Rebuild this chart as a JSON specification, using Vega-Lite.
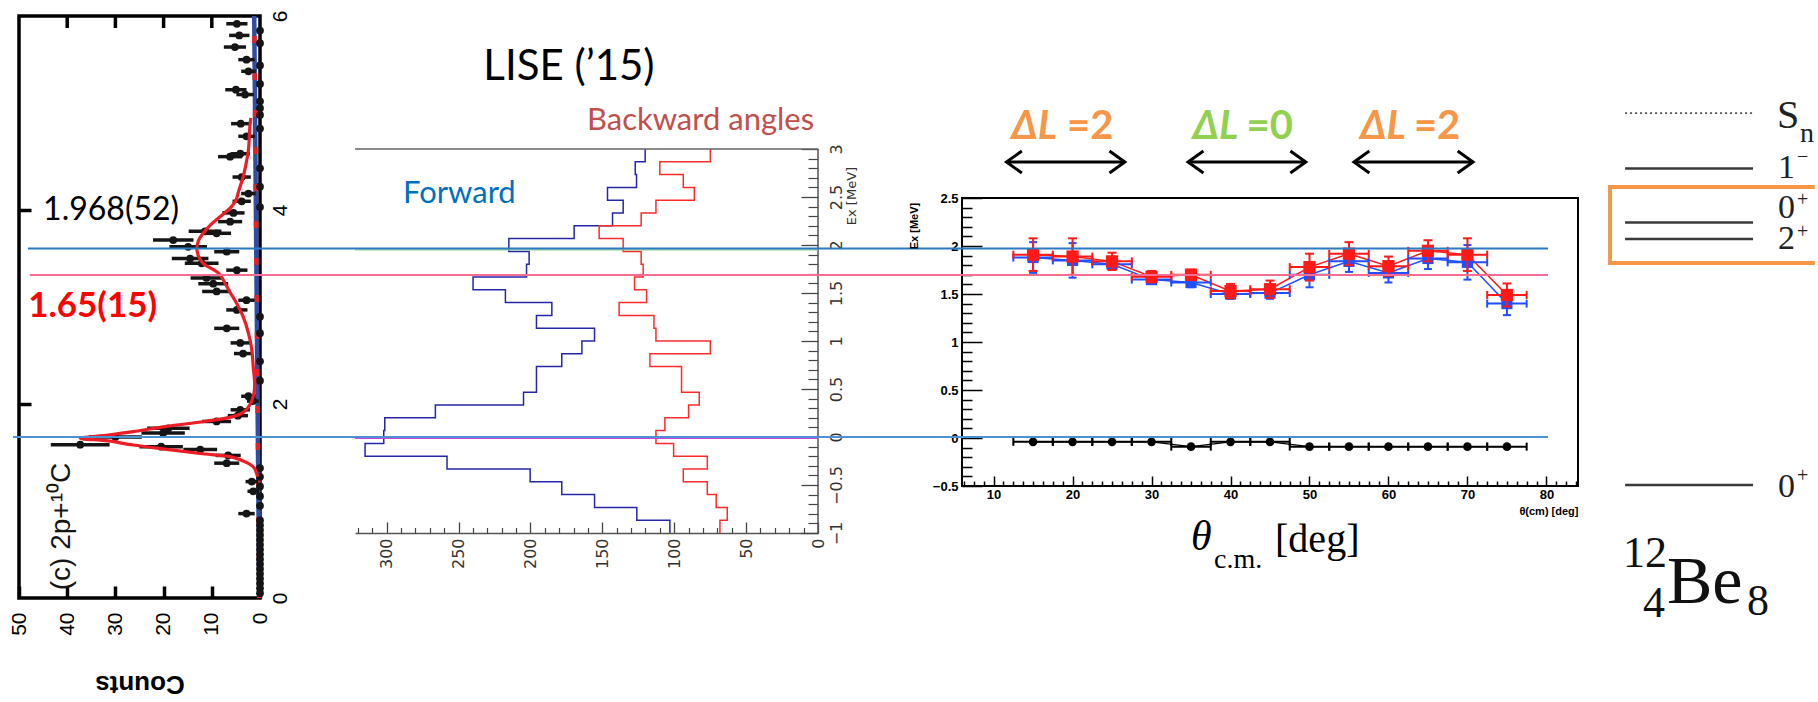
{
"$schema": "https://vega.github.io/schema/vega-lite/v6.json",
"background": "white",
"padding": {"left": 8, "top": 0, "right": 0, "bottom": 0},
"spacing": 0,
"bounds": "flush",
"config": {
 "view": {"stroke": null},
 "font": "Liberation Sans",
 "axis": {"labelOverlap": false, "labelFlush": false, "grid": false, "labelColor": "#000", "tickColor": "#000", "domainColor": "#000", "titleColor": "#000"}
},
"datasets": {
 "p1bg": [{"e": 0, "c": 0.15}, {"e": 6, "c": 1.2}],
 "p1fit": [
  {"e": 1.25, "c": 0.5}, {"e": 1.285, "c": 0.7}, {"e": 1.34, "c": 1.2}, {"e": 1.39, "c": 2.5}, {"e": 1.45, "c": 5.6},
  {"e": 1.49, "c": 12.4}, {"e": 1.533, "c": 19.4}, {"e": 1.577, "c": 26.3}, {"e": 1.62, "c": 31.5}, {"e": 1.646, "c": 37.3},
  {"e": 1.68, "c": 31.5}, {"e": 1.715, "c": 26.3}, {"e": 1.77, "c": 19.4}, {"e": 1.82, "c": 11.5}, {"e": 1.87, "c": 5.6},
  {"e": 1.92, "c": 3.3}, {"e": 2.0, "c": 2.0}, {"e": 2.1, "c": 1.3}, {"e": 2.2, "c": 1.1}, {"e": 2.38, "c": 1.4},
  {"e": 2.56, "c": 1.7}, {"e": 2.73, "c": 2.4}, {"e": 2.9, "c": 3.5}, {"e": 3.07, "c": 5.2}, {"e": 3.15, "c": 6.2},
  {"e": 3.25, "c": 7.3}, {"e": 3.35, "c": 8.6}, {"e": 3.45, "c": 11.8}, {"e": 3.53, "c": 12.8}, {"e": 3.605, "c": 13.1},
  {"e": 3.68, "c": 12.8}, {"e": 3.76, "c": 11.8}, {"e": 3.85, "c": 10.2}, {"e": 3.93, "c": 8.3}, {"e": 4.03, "c": 6.0},
  {"e": 4.1, "c": 5.0}, {"e": 4.2, "c": 4.4}, {"e": 4.34, "c": 3.5}, {"e": 4.45, "c": 3.0}, {"e": 4.62, "c": 2.4},
  {"e": 4.86, "c": 2.1}, {"e": 4.95, "c": 1.9}
 ],
 "p1pts": [
  {"e":5.92,"c":4.8,"lo":2.6,"hi":7.0},{"e":5.85,"c":0,"lo":0,"hi":0},{"e":5.80,"c":4.3,"lo":2.2,"hi":6.4},
  {"e":5.72,"c":0,"lo":0,"hi":0},{"e":5.68,"c":5.2,"lo":2.9,"hi":7.5},{"e":5.55,"c":2.8,"lo":1.1,"hi":4.5},
  {"e":5.49,"c":0,"lo":0,"hi":0},{"e":5.43,"c":2.4,"lo":0.9,"hi":3.9},{"e":5.30,"c":0,"lo":0,"hi":0},
  {"e":5.24,"c":5.0,"lo":2.8,"hi":7.2},{"e":5.19,"c":3.1,"lo":1.3,"hi":4.9},{"e":5.12,"c":0,"lo":0,"hi":0},
  {"e":5.05,"c":0,"lo":0,"hi":0},{"e":4.98,"c":0,"lo":0,"hi":0},{"e":4.89,"c":4.0,"lo":2.0,"hi":6.0},
  {"e":4.84,"c":0,"lo":0,"hi":0},{"e":4.76,"c":2.8,"lo":1.1,"hi":4.5},{"e":4.58,"c":4.1,"lo":2.1,"hi":6.1},
  {"e":4.55,"c":6.2,"lo":3.7,"hi":8.7},{"e":4.43,"c":0,"lo":0,"hi":0},{"e":4.34,"c":3.8,"lo":1.9,"hi":5.7},
  {"e":4.24,"c":0,"lo":0,"hi":0},{"e":4.17,"c":2.4,"lo":0.9,"hi":3.9},{"e":4.09,"c":3.8,"lo":1.9,"hi":5.7},
  {"e":4.03,"c":0,"lo":0,"hi":0},{"e":3.97,"c":5.5,"lo":3.2,"hi":7.8},{"e":3.88,"c":6.2,"lo":3.7,"hi":8.7},
  {"e":3.78,"c":11.4,"lo":8.0,"hi":14.8},{"e":3.76,"c":9.0,"lo":6.0,"hi":12.0},{"e":3.69,"c":18.0,"lo":13.8,"hi":22.2},
  {"e":3.62,"c":14.9,"lo":11.0,"hi":18.8},{"e":3.57,"c":6.9,"lo":4.3,"hi":9.5},{"e":3.50,"c":14.5,"lo":10.7,"hi":18.3},
  {"e":3.45,"c":12.1,"lo":8.6,"hi":15.6},{"e":3.38,"c":4.8,"lo":2.6,"hi":7.0},{"e":3.30,"c":11.1,"lo":7.8,"hi":14.4},
  {"e":3.24,"c":9.7,"lo":6.6,"hi":12.8},{"e":3.16,"c":9.0,"lo":6.0,"hi":12.0},{"e":3.07,"c":2.8,"lo":1.1,"hi":4.5},
  {"e":2.97,"c":4.8,"lo":2.6,"hi":7.0},{"e":2.90,"c":0,"lo":0,"hi":0},{"e":2.78,"c":6.9,"lo":4.3,"hi":9.5},
  {"e":2.73,"c":0,"lo":0,"hi":0},{"e":2.63,"c":4.1,"lo":2.1,"hi":6.1},{"e":2.52,"c":3.5,"lo":1.6,"hi":5.4},
  {"e":2.44,"c":0,"lo":0,"hi":0},{"e":2.24,"c":0,"lo":0,"hi":0},{"e":2.08,"c":2.4,"lo":0.9,"hi":3.9},
  {"e":2.03,"c":1.5,"lo":0.3,"hi":2.7},{"e":1.94,"c":4.1,"lo":2.1,"hi":6.1},{"e":1.88,"c":4.6,"lo":2.5,"hi":6.7},
  {"e":1.82,"c":9.0,"lo":6.0,"hi":12.0},{"e":1.75,"c":19.0,"lo":14.6,"hi":23.4},{"e":1.70,"c":20.1,"lo":15.6,"hi":24.6},
  {"e":1.66,"c":30.0,"lo":24.5,"hi":35.5},{"e":1.58,"c":37.3,"lo":31.2,"hi":43.4},{"e":1.56,"c":20.5,"lo":16.0,"hi":25.0},
  {"e":1.53,"c":12.4,"lo":8.9,"hi":15.9},{"e":1.47,"c":6.6,"lo":4.0,"hi":9.2},{"e":1.39,"c":6.9,"lo":4.3,"hi":9.5},
  {"e":1.34,"c":0,"lo":0,"hi":0},{"e":1.25,"c":0,"lo":0,"hi":0},{"e":1.20,"c":1.7,"lo":0.4,"hi":3.0},
  {"e":1.15,"c":0,"lo":0,"hi":0},{"e":1.10,"c":1.4,"lo":0.2,"hi":2.6},{"e":1.05,"c":0,"lo":0,"hi":0},
  {"e":0.95,"c":0,"lo":0,"hi":0},{"e":0.87,"c":2.8,"lo":1.1,"hi":4.5},{"e":0.80,"c":0,"lo":0,"hi":0},
  {"e":0.75,"c":0,"lo":0,"hi":0},{"e":0.70,"c":0,"lo":0,"hi":0},{"e":0.65,"c":0,"lo":0,"hi":0},
  {"e":0.60,"c":0,"lo":0,"hi":0},{"e":0.55,"c":0,"lo":0,"hi":0},{"e":0.50,"c":0,"lo":0,"hi":0},
  {"e":0.45,"c":0,"lo":0,"hi":0},{"e":0.40,"c":0,"lo":0,"hi":0},{"e":0.35,"c":0,"lo":0,"hi":0},
  {"e":0.30,"c":0,"lo":0,"hi":0},{"e":0.25,"c":0,"lo":0,"hi":0},{"e":0.20,"c":0,"lo":0,"hi":0},
  {"e":0.15,"c":0,"lo":0,"hi":0},{"e":0.10,"c":0,"lo":0,"hi":0},{"e":0.05,"c":0,"lo":0,"hi":0}
 ],
 "histB": [
  {"e":-1,"c":103},{"e":-0.8667,"c":126},{"e":-0.7333,"c":155.4},{"e":-0.6,"c":178.2},{"e":-0.4667,"c":200.2},
  {"e":-0.3333,"c":258},{"e":-0.2,"c":315},{"e":-0.0667,"c":302},{"e":0.0667,"c":301.3},{"e":0.2,"c":266.1},
  {"e":0.3333,"c":204.8},{"e":0.4667,"c":195.8},{"e":0.6,"c":195.8},{"e":0.7333,"c":178.2},{"e":0.8667,"c":164.2},
  {"e":1.0,"c":155.4},{"e":1.1333,"c":195.8},{"e":1.2667,"c":185.1},{"e":1.4,"c":217.4},{"e":1.5333,"c":239.9},
  {"e":1.6667,"c":202.7},{"e":1.8,"c":200.9},{"e":1.9333,"c":215},{"e":2.0667,"c":169.6},{"e":2.2,"c":142.9},
  {"e":2.3333,"c":135.5},{"e":2.4667,"c":146.4},{"e":2.6,"c":126.2},{"e":2.7333,"c":127.1},{"e":2.8667,"c":120.2},
  {"e":3.0,"c":120.2}
 ],
 "histR": [
  {"e":-1,"c":68.2},{"e":-0.8667,"c":63.1},{"e":-0.7333,"c":70.8},{"e":-0.6,"c":77},{"e":-0.4667,"c":93.7},
  {"e":-0.3333,"c":77},{"e":-0.2,"c":100.4},{"e":-0.0667,"c":112.7},{"e":0.0667,"c":106.5},{"e":0.2,"c":90},
  {"e":0.3333,"c":82.6},{"e":0.4667,"c":94.9},{"e":0.6,"c":94.9},{"e":0.7333,"c":116.9},{"e":0.8667,"c":74.9},
  {"e":1.0,"c":112.7},{"e":1.1333,"c":114.1},{"e":1.2667,"c":138.3},{"e":1.4,"c":119.2},{"e":1.5333,"c":127.6},
  {"e":1.6667,"c":121.6},{"e":1.8,"c":123},{"e":1.9333,"c":135.5},{"e":2.0667,"c":152.2},{"e":2.2,"c":123},
  {"e":2.3333,"c":112.7},{"e":2.4667,"c":86},{"e":2.6,"c":93.7},{"e":2.7333,"c":110},{"e":2.8667,"c":74.9},
  {"e":3.0,"c":74.9}
 ],
 "p3black": [
  {"t":15,"e":-0.04,"tlo":12.5,"thi":17.5},{"t":20,"e":-0.04,"tlo":17.5,"thi":22.5},{"t":25,"e":-0.04,"tlo":22.5,"thi":27.5},
  {"t":30,"e":-0.04,"tlo":27.5,"thi":32.5},{"t":35,"e":-0.09,"tlo":32.5,"thi":37.5},{"t":40,"e":-0.04,"tlo":37.5,"thi":42.5},
  {"t":45,"e":-0.04,"tlo":42.5,"thi":47.5},{"t":50,"e":-0.09,"tlo":47.5,"thi":52.5},{"t":55,"e":-0.09,"tlo":52.5,"thi":57.5},
  {"t":60,"e":-0.09,"tlo":57.5,"thi":62.5},{"t":65,"e":-0.09,"tlo":62.5,"thi":67.5},{"t":70,"e":-0.09,"tlo":67.5,"thi":72.5},
  {"t":75,"e":-0.09,"tlo":72.5,"thi":77.5}
 ],
 "p3blue": [
  {"t":15,"e":1.88,"lo":1.72,"hi":2.04,"tlo":12.5,"thi":17.5},{"t":20,"e":1.85,"lo":1.67,"hi":2.03,"tlo":17.5,"thi":22.5},
  {"t":25,"e":1.81,"lo":1.76,"hi":1.86,"tlo":22.5,"thi":27.5},{"t":30,"e":1.65,"lo":1.61,"hi":1.69,"tlo":27.5,"thi":32.5},
  {"t":35,"e":1.62,"lo":1.57,"hi":1.67,"tlo":32.5,"thi":37.5},{"t":40,"e":1.50,"lo":1.45,"hi":1.55,"tlo":37.5,"thi":42.5},
  {"t":45,"e":1.51,"lo":1.45,"hi":1.57,"tlo":42.5,"thi":47.5},{"t":50,"e":1.70,"lo":1.57,"hi":1.83,"tlo":47.5,"thi":52.5},
  {"t":55,"e":1.84,"lo":1.73,"hi":1.95,"tlo":52.5,"thi":57.5},{"t":60,"e":1.72,"lo":1.62,"hi":1.82,"tlo":57.5,"thi":62.5},
  {"t":65,"e":1.87,"lo":1.76,"hi":1.98,"tlo":62.5,"thi":67.5},{"t":70,"e":1.83,"lo":1.65,"hi":2.01,"tlo":67.5,"thi":72.5},
  {"t":75,"e":1.40,"lo":1.28,"hi":1.52,"tlo":72.5,"thi":77.5}
 ],
 "p3red": [
  {"t":15,"e":1.91,"lo":1.74,"hi":2.08,"tlo":12.5,"thi":17.5},{"t":20,"e":1.89,"lo":1.70,"hi":2.08,"tlo":17.5,"thi":22.5},
  {"t":25,"e":1.84,"lo":1.75,"hi":1.93,"tlo":22.5,"thi":27.5},{"t":30,"e":1.68,"lo":1.62,"hi":1.74,"tlo":27.5,"thi":32.5},
  {"t":35,"e":1.70,"lo":1.645,"hi":1.755,"tlo":32.5,"thi":37.5},{"t":40,"e":1.53,"lo":1.455,"hi":1.605,"tlo":37.5,"thi":42.5},
  {"t":45,"e":1.55,"lo":1.46,"hi":1.64,"tlo":42.5,"thi":47.5},{"t":50,"e":1.78,"lo":1.64,"hi":1.92,"tlo":47.5,"thi":52.5},
  {"t":55,"e":1.92,"lo":1.80,"hi":2.04,"tlo":52.5,"thi":57.5},{"t":60,"e":1.79,"lo":1.69,"hi":1.89,"tlo":57.5,"thi":62.5},
  {"t":65,"e":1.95,"lo":1.84,"hi":2.06,"tlo":62.5,"thi":67.5},{"t":70,"e":1.91,"lo":1.74,"hi":2.08,"tlo":67.5,"thi":72.5},
  {"t":75,"e":1.49,"lo":1.37,"hi":1.61,"tlo":72.5,"thi":77.5}
 ],
 "reflines": [
  {"k": "b", "e": 1.974, "t": -112.27, "t2": 80.2},
  {"k": "p", "e": 1.698, "t": -112.02, "t2": 80.2},
  {"k": "l", "e": 0.01, "t": -114.17, "t2": 80.2}
 ],
 "p3arrows": [
  {"t": 11.63, "t2": 26.62, "e": 2.875},
  {"t": 34.62, "t2": 49.53, "e": 2.875},
  {"t": 55.63, "t2": 70.71, "e": 2.875}
 ]
},
"hconcat": [
 {
  "width": 241, "height": 598,
  "resolve": {"axis": {"x": "independent", "y": "independent"}},
  "encoding": {
   "x": {"field": "c", "type": "quantitative", "scale": {"domain": [0, 50], "reverse": true, "nice": false, "zero": false}, "axis": null},
   "y": {"field": "e", "type": "quantitative", "scale": {"domain": [0, 6.165], "nice": false, "zero": false}, "axis": null}
  },
  "layer": [
   {
    "data": {"values": [{"c": 50, "c2": 0, "e": 0, "e2": 6}]},
    "mark": {"type": "rect", "fill": "white", "fillOpacity": 0, "stroke": "#000", "strokeWidth": 3.5},
    "encoding": {"x2": {"field": "c2"}, "y2": {"field": "e2"}}
   },
   {
    "data": {"name": "p1bg"},
    "mark": {"type": "line", "color": "#2e4da3", "strokeWidth": 4.5},
    "encoding": {
     "x": {"field": "c", "type": "quantitative", "scale": {"domain": [0, 50], "reverse": true, "nice": false, "zero": false},
      "axis": {"orient": "bottom", "values": [0, 10, 20, 30, 40, 50], "format": "d", "labelAngle": 270, "labelAlign": "right", "labelBaseline": "middle", "labelFont": "Liberation Sans", "labelFontSize": 21, "labelPadding": 26, "tickSize": -12, "tickWidth": 3.5, "domain": false, "title": "Counts", "titleAngle": 180, "titleBaseline": "bottom", "titleFont": "Liberation Sans", "titleFontSize": 26, "titleFontWeight": "bold", "titlePadding": 35}},
     "y": {"field": "e", "type": "quantitative", "scale": {"domain": [0, 6.165], "nice": false, "zero": false},
      "axis": {"orient": "right", "values": [0, 2, 4, 6], "format": "d", "labelAngle": 270, "labelAlign": "center", "labelBaseline": "top", "labelFont": "Liberation Sans", "labelFontSize": 21, "labelPadding": 9, "ticks": false, "domain": false, "title": null}},
     "order": {"field": "e", "type": "quantitative"}
    }
   },
   {
    "data": {"name": "p1bg"},
    "mark": {"type": "line", "color": "#e8202a", "strokeWidth": 4.5, "strokeDash": [7, 30]},
    "encoding": {
     "y": {"field": "e", "type": "quantitative", "scale": {"domain": [0, 6.165], "nice": false, "zero": false},
      "axis": {"orient": "left", "values": [2, 4], "labels": false, "tickSize": -12, "tickWidth": 3.5, "domain": false, "title": null}},
     "order": {"field": "e", "type": "quantitative"}
    }
   },
   {
    "data": {"values": [{"c": 10, "e": 5.938}, {"c": 20, "e": 5.938}, {"c": 30, "e": 5.938}, {"c": 40, "e": 5.938}]},
    "mark": {"type": "tick", "orient": "vertical", "color": "#000", "size": 12, "thickness": 3.5, "opacity": 1}
   },
   {
    "data": {"name": "p1pts"},
    "mark": {"type": "rule", "color": "#151515", "strokeWidth": 3.5},
    "encoding": {
     "x": {"field": "lo", "type": "quantitative", "scale": {"domain": [0, 50], "reverse": true, "nice": false, "zero": false}, "axis": null},
     "x2": {"field": "hi"}
    }
   },
   {
    "data": {"name": "p1pts"},
    "mark": {"type": "circle", "color": "#151515", "size": 60, "opacity": 1}
   },
   {
    "data": {"name": "p1fit"},
    "mark": {"type": "line", "color": "#ee1c25", "strokeWidth": 3.2, "interpolate": "catmull-rom"},
    "encoding": {"order": {"field": "e", "type": "quantitative"}}
   },
   {
    "data": {"values": [{"s": "1.968(52)", "c": 45.0, "e": 4.0}]},
    "mark": {"type": "text", "font": "Lato", "fontSize": 32, "align": "left", "baseline": "middle", "color": "#000"},
    "encoding": {"text": {"field": "s"}}
   },
   {
    "data": {"values": [{"s": "1.65(15)", "c": 48.1, "e": 3.01}]},
    "mark": {"type": "text", "font": "Lato", "fontSize": 35, "fontWeight": "bold", "align": "left", "baseline": "middle", "color": "#ff0000"},
    "encoding": {"text": {"field": "s"}}
   },
   {
    "data": {"values": [{"s": "(c) 2p+¹⁰C", "c": 41.1, "e": 0.08}]},
    "mark": {"type": "text", "font": "Liberation Sans", "fontSize": 28, "angle": 270, "align": "left", "baseline": "middle", "color": "#151515"},
    "encoding": {"text": {"field": "s"}}
   }
  ]
 },
 {"width": 95, "height": 10, "data": {"values": []}, "mark": {"type": "point", "opacity": 0}},
 {
  "width": 463, "height": 533,
  "resolve": {"axis": {"x": "independent", "y": "independent"}},
  "encoding": {
   "x": {"field": "c", "type": "quantitative", "scale": {"domain": [0, 322], "reverse": true, "nice": false, "zero": false}, "axis": null},
   "y": {"field": "e", "type": "quantitative", "scale": {"domain": [-1, 4.552], "nice": false, "zero": false}, "axis": null}
  },
  "layer": [
   {
    "data": {"name": "histB"},
    "mark": {"type": "line", "color": "#2626a8", "strokeWidth": 1.5, "interpolate": "step-before"},
    "encoding": {
     "x": {"field": "c", "type": "quantitative", "scale": {"domain": [0, 322], "reverse": true, "nice": false, "zero": false},
      "axis": {"orient": "bottom", "values": [0, 50, 100, 150, 200, 250, 300], "format": "d", "labelAngle": 270, "labelAlign": "right", "labelBaseline": "middle", "labelFont": "DejaVu Sans", "labelFontSize": 16, "labelColor": "#333", "labelPadding": 16, "tickSize": -11, "tickWidth": 1.3, "tickColor": "#444", "domain": true, "domainColor": "#555", "domainWidth": 1.5, "title": null}},
     "y": {"field": "e", "type": "quantitative", "scale": {"domain": [-1, 4.552], "nice": false, "zero": false},
      "axis": {"orient": "right", "values": [-1, -0.5, 0, 0.5, 1, 1.5, 2, 2.5, 3], "format": ".1~f", "labelAngle": 270, "labelAlign": "center", "labelBaseline": "top", "labelFont": "DejaVu Sans", "labelFontSize": 16, "labelColor": "#333", "labelPadding": 27, "tickSize": -17, "tickWidth": 1.3, "tickColor": "#444", "domain": false, "title": null}},
     "order": {"field": "e", "type": "quantitative"}
    }
   },
   {
    "data": {"name": "histR"},
    "mark": {"type": "line", "color": "#ff2b2b", "strokeWidth": 1.5, "interpolate": "step-before"},
    "encoding": {
     "x": {"field": "c", "type": "quantitative", "scale": {"domain": [0, 322], "reverse": true, "nice": false, "zero": false},
      "axis": {"orient": "bottom", "values": [10, 20, 30, 40, 60, 70, 80, 90, 110, 120, 130, 140, 160, 170, 180, 190, 210, 220, 230, 240, 260, 270, 280, 290, 310, 320], "labels": false, "tickSize": -5.5, "tickWidth": 1.2, "tickColor": "#444", "domain": false, "title": null}},
     "y": {"field": "e", "type": "quantitative", "scale": {"domain": [-1, 4.552], "nice": false, "zero": false},
      "axis": {"orient": "right", "values": [-0.9, -0.8, -0.7, -0.6, -0.4, -0.3, -0.2, -0.1, 0.1, 0.2, 0.3, 0.4, 0.6, 0.7, 0.8, 0.9, 1.1, 1.2, 1.3, 1.4, 1.6, 1.7, 1.8, 1.9, 2.1, 2.2, 2.3, 2.4, 2.6, 2.7, 2.8, 2.9], "labels": false, "tickSize": -10, "tickWidth": 1.2, "tickColor": "#444", "domain": false, "title": null}},
     "order": {"field": "e", "type": "quantitative"}
    }
   },
   {
    "data": {"values": [{"c": 0, "e": -1, "e2": 3}]},
    "mark": {"type": "rule", "color": "#555", "strokeWidth": 1.5},
    "encoding": {"y2": {"field": "e2"}}
   },
   {
    "data": {"values": [{"c": 322, "c2": 0, "e": 3}]},
    "mark": {"type": "rule", "color": "#666", "strokeWidth": 1.5},
    "encoding": {"x2": {"field": "c2"}}
   },
   {
    "data": {"values": [{"c": 322, "c2": 0, "e": -0.014}]},
    "mark": {"type": "rule", "color": "#cc44dd", "strokeWidth": 1.5},
    "encoding": {"x2": {"field": "c2"}}
   },
   {
    "data": {"values": [{"c": 322, "c2": 0, "e": 1.95}]},
    "mark": {"type": "rule", "color": "#8fd18f", "strokeWidth": 1.2},
    "encoding": {"x2": {"field": "c2"}}
   },
   {
    "data": {"values": [{"s": "Ex [MeV]", "c": -23.6, "e": 2.51}]},
    "mark": {"type": "text", "font": "DejaVu Sans", "fontSize": 13, "angle": 270, "align": "center", "baseline": "middle", "color": "#333"},
    "encoding": {"text": {"field": "s"}}
   },
   {
    "data": {"values": [{"s": "LISE (’15)", "c": 173.2, "e": 3.854}]},
    "mark": {"type": "text", "font": "Lato", "fontSize": 42, "align": "center", "baseline": "middle", "color": "#000"},
    "encoding": {"text": {"field": "s"}}
   },
   {
    "data": {"values": [{"s": "Backward angles", "c": 160.7, "e": 3.292}]},
    "mark": {"type": "text", "font": "Lato", "fontSize": 31, "align": "left", "baseline": "middle", "color": "#c0504d"},
    "encoding": {"text": {"field": "s"}}
   },
   {
    "data": {"values": [{"s": "Forward", "c": 288.6, "e": 2.531}]},
    "mark": {"type": "text", "font": "Lato", "fontSize": 31, "align": "left", "baseline": "middle", "color": "#0070c0"},
    "encoding": {"text": {"field": "s"}}
   }
  ]
 },
 {"width": 144, "height": 10, "data": {"values": []}, "mark": {"type": "point", "opacity": 0}},
 {
  "width": 616, "height": 486,
  "resolve": {"axis": {"x": "independent", "y": "independent"}},
  "encoding": {
   "x": {"field": "t", "type": "quantitative", "scale": {"domain": [6, 84], "nice": false, "zero": false}, "axis": null},
   "y": {"field": "e", "type": "quantitative", "scale": {"domain": [-0.5, 4.5625], "nice": false, "zero": false}, "axis": null}
  },
  "layer": [
   {
    "data": {"values": [{"t": 6, "t2": 84, "e": -0.5, "e2": 2.5}]},
    "mark": {"type": "rect", "fill": "white", "fillOpacity": 0, "stroke": "#000", "strokeWidth": 2},
    "encoding": {"x2": {"field": "t2"}, "y2": {"field": "e2"}}
   },
   {
    "data": {"name": "p3black"},
    "mark": {"type": "line", "color": "#000", "strokeWidth": 1.2},
    "encoding": {
     "x": {"field": "t", "type": "quantitative", "scale": {"domain": [6, 84], "nice": false, "zero": false},
      "axis": {"orient": "bottom", "values": [10, 20, 30, 40, 50, 60, 70, 80], "format": "d", "labelFont": "Liberation Sans", "labelFontWeight": "bold", "labelFontSize": 13, "labelPadding": 12, "tickSize": -10, "tickWidth": 1.5, "domain": false, "title": "θ(cm) [deg]", "titleFont": "Liberation Sans", "titleFontWeight": "bold", "titleFontSize": 11, "titleAnchor": "end", "titlePadding": 4}},
     "y": {"field": "e", "type": "quantitative", "scale": {"domain": [-0.5, 4.5625], "nice": false, "zero": false},
      "axis": {"orient": "left", "values": [-0.5, 0, 0.5, 1, 1.5, 2, 2.5], "format": ".1~f", "labelFont": "Liberation Sans", "labelFontWeight": "bold", "labelFontSize": 13, "labelPadding": 24, "tickSize": -20, "tickWidth": 1.5, "domain": false, "title": null}}
    }
   },
   {
    "data": {"name": "p3blue"},
    "mark": {"type": "line", "color": "#1f4fff", "strokeWidth": 1.5},
    "encoding": {
     "x": {"field": "t", "type": "quantitative", "scale": {"domain": [6, 84], "nice": false, "zero": false},
      "axis": {"orient": "bottom", "values": [6.25, 7.5, 8.75, 11.25, 12.5, 13.75, 15, 16.25, 17.5, 18.75, 21.25, 22.5, 23.75, 25, 26.25, 27.5, 28.75, 31.25, 32.5, 33.75, 35, 36.25, 37.5, 38.75, 41.25, 42.5, 43.75, 45, 46.25, 47.5, 48.75, 51.25, 52.5, 53.75, 55, 56.25, 57.5, 58.75, 61.25, 62.5, 63.75, 65, 66.25, 67.5, 68.75, 71.25, 72.5, 73.75, 75, 76.25, 77.5, 78.75, 81.25, 82.5, 83.75], "labels": false, "tickSize": -5, "tickWidth": 1.5, "domain": false, "title": null}},
     "y": {"field": "e", "type": "quantitative", "scale": {"domain": [-0.5, 4.5625], "nice": false, "zero": false},
      "axis": {"orient": "left", "values": [-0.4, -0.3, -0.2, -0.1, 0.1, 0.2, 0.3, 0.4, 0.6, 0.7, 0.8, 0.9, 1.1, 1.2, 1.3, 1.4, 1.6, 1.7, 1.8, 1.9, 2.1, 2.2, 2.3, 2.4], "labels": false, "tickSize": -10, "tickWidth": 1.5, "domain": false, "title": null}}
    }
   },
   {
    "data": {"name": "p3red"},
    "mark": {"type": "line", "color": "#ff1a1a", "strokeWidth": 1.5}
   },
   {
    "data": {"name": "p3black"},
    "mark": {"type": "rule", "color": "#000", "strokeWidth": 2},
    "encoding": {"x": {"field": "tlo", "type": "quantitative", "scale": {"domain": [6, 84], "nice": false, "zero": false}, "axis": null}, "x2": {"field": "thi"}}
   },
   {
    "data": {"name": "p3black"},
    "mark": {"type": "tick", "orient": "vertical", "color": "#000", "size": 8, "thickness": 2, "opacity": 1},
    "encoding": {"x": {"field": "tlo", "type": "quantitative", "scale": {"domain": [6, 84], "nice": false, "zero": false}, "axis": null}}
   },
   {
    "data": {"name": "p3black"},
    "mark": {"type": "tick", "orient": "vertical", "color": "#000", "size": 8, "thickness": 2, "opacity": 1},
    "encoding": {"x": {"field": "thi", "type": "quantitative", "scale": {"domain": [6, 84], "nice": false, "zero": false}, "axis": null}}
   },
   {
    "data": {"name": "p3black"},
    "mark": {"type": "circle", "color": "#000", "size": 75, "opacity": 1}
   },
   {
    "data": {"name": "p3blue"},
    "mark": {"type": "rule", "color": "#1f4fff", "strokeWidth": 2},
    "encoding": {"x": {"field": "tlo", "type": "quantitative", "scale": {"domain": [6, 84], "nice": false, "zero": false}, "axis": null}, "x2": {"field": "thi"}}
   },
   {
    "data": {"name": "p3blue"},
    "mark": {"type": "rule", "color": "#1f4fff", "strokeWidth": 2},
    "encoding": {"y": {"field": "lo", "type": "quantitative", "scale": {"domain": [-0.5, 4.5625], "nice": false, "zero": false}, "axis": null}, "y2": {"field": "hi"}}
   },
   {
    "data": {"name": "p3blue"},
    "mark": {"type": "tick", "orient": "vertical", "color": "#1f4fff", "size": 8, "thickness": 2, "opacity": 1},
    "encoding": {"x": {"field": "tlo", "type": "quantitative", "scale": {"domain": [6, 84], "nice": false, "zero": false}, "axis": null}}
   },
   {
    "data": {"name": "p3blue"},
    "mark": {"type": "tick", "orient": "vertical", "color": "#1f4fff", "size": 8, "thickness": 2, "opacity": 1},
    "encoding": {"x": {"field": "thi", "type": "quantitative", "scale": {"domain": [6, 84], "nice": false, "zero": false}, "axis": null}}
   },
   {
    "data": {"name": "p3blue"},
    "mark": {"type": "tick", "orient": "horizontal", "color": "#1f4fff", "size": 8, "thickness": 2, "opacity": 1},
    "encoding": {"y": {"field": "lo", "type": "quantitative", "scale": {"domain": [-0.5, 4.5625], "nice": false, "zero": false}, "axis": null}}
   },
   {
    "data": {"name": "p3blue"},
    "mark": {"type": "tick", "orient": "horizontal", "color": "#1f4fff", "size": 8, "thickness": 2, "opacity": 1},
    "encoding": {"y": {"field": "hi", "type": "quantitative", "scale": {"domain": [-0.5, 4.5625], "nice": false, "zero": false}, "axis": null}}
   },
   {
    "data": {"name": "p3blue"},
    "mark": {"type": "square", "color": "#1f4fff", "size": 125, "opacity": 1}
   },
   {
    "data": {"name": "p3red"},
    "mark": {"type": "rule", "color": "#ff1a1a", "strokeWidth": 2},
    "encoding": {"x": {"field": "tlo", "type": "quantitative", "scale": {"domain": [6, 84], "nice": false, "zero": false}, "axis": null}, "x2": {"field": "thi"}}
   },
   {
    "data": {"name": "p3red"},
    "mark": {"type": "rule", "color": "#ff1a1a", "strokeWidth": 2},
    "encoding": {"y": {"field": "lo", "type": "quantitative", "scale": {"domain": [-0.5, 4.5625], "nice": false, "zero": false}, "axis": null}, "y2": {"field": "hi"}}
   },
   {
    "data": {"name": "p3red"},
    "mark": {"type": "tick", "orient": "vertical", "color": "#ff1a1a", "size": 8, "thickness": 2, "opacity": 1},
    "encoding": {"x": {"field": "tlo", "type": "quantitative", "scale": {"domain": [6, 84], "nice": false, "zero": false}, "axis": null}}
   },
   {
    "data": {"name": "p3red"},
    "mark": {"type": "tick", "orient": "vertical", "color": "#ff1a1a", "size": 8, "thickness": 2, "opacity": 1},
    "encoding": {"x": {"field": "thi", "type": "quantitative", "scale": {"domain": [6, 84], "nice": false, "zero": false}, "axis": null}}
   },
   {
    "data": {"name": "p3red"},
    "mark": {"type": "tick", "orient": "horizontal", "color": "#ff1a1a", "size": 9, "thickness": 2, "opacity": 1},
    "encoding": {"y": {"field": "lo", "type": "quantitative", "scale": {"domain": [-0.5, 4.5625], "nice": false, "zero": false}, "axis": null}}
   },
   {
    "data": {"name": "p3red"},
    "mark": {"type": "tick", "orient": "horizontal", "color": "#ff1a1a", "size": 9, "thickness": 2, "opacity": 1},
    "encoding": {"y": {"field": "hi", "type": "quantitative", "scale": {"domain": [-0.5, 4.5625], "nice": false, "zero": false}, "axis": null}}
   },
   {
    "data": {"name": "p3red"},
    "mark": {"type": "square", "color": "#ff1a1a", "size": 150, "opacity": 1}
   },
   {
    "data": {"name": "reflines"},
    "mark": {"type": "rule", "strokeWidth": 2, "clip": false},
    "encoding": {
     "x2": {"field": "t2"},
     "stroke": {"field": "k", "type": "nominal", "scale": {"domain": ["b", "p", "l"], "range": ["#2b7bc2", "#f46d93", "#4e90d4"]}, "legend": null}
    }
   },
   {
    "data": {"values": [{"s": "Ex [MeV]", "t": 0.05, "e": 2.208}]},
    "mark": {"type": "text", "font": "Liberation Sans", "fontSize": 11, "fontWeight": "bold", "angle": 270, "align": "center", "baseline": "middle", "color": "#000", "clip": false},
    "encoding": {"text": {"field": "s"}}
   },
   {
    "data": {"name": "p3arrows"},
    "mark": {"type": "rule", "color": "#000", "strokeWidth": 3, "clip": false},
    "encoding": {"x2": {"field": "t2"}}
   },
   {
    "data": {"name": "p3arrows"},
    "mark": {"type": "point", "shape": "M1.4,-1L0,0L1.4,1", "filled": false, "color": "#000", "strokeWidth": 3, "size": 484, "opacity": 1, "clip": false}
   },
   {
    "data": {"name": "p3arrows"},
    "mark": {"type": "point", "shape": "M-1.4,-1L0,0L-1.4,1", "filled": false, "color": "#000", "strokeWidth": 3, "size": 484, "opacity": 1, "clip": false},
    "encoding": {"x": {"field": "t2", "type": "quantitative", "scale": {"domain": [6, 84], "nice": false, "zero": false}, "axis": null}}
   },
   {
    "data": {"values": [{"s": "ΔL", "t": 18.03, "e": 3.24}, {"s": "ΔL", "t": 62.19, "e": 3.24}]},
    "mark": {"type": "text", "font": "Lato", "fontSize": 40, "fontWeight": "bold", "fontStyle": "italic", "align": "right", "baseline": "middle", "color": "#f79646", "clip": false},
    "encoding": {"text": {"field": "s"}}
   },
   {
    "data": {"values": [{"s": "=2", "t": 19.3, "e": 3.24}, {"s": "=2", "t": 63.22, "e": 3.24}]},
    "mark": {"type": "text", "font": "Lato", "fontSize": 40, "fontWeight": "bold", "align": "left", "baseline": "middle", "color": "#f79646", "clip": false},
    "encoding": {"text": {"field": "s"}}
   },
   {
    "data": {"values": [{"s": "ΔL", "t": 41.0, "e": 3.24}]},
    "mark": {"type": "text", "font": "Lato", "fontSize": 40, "fontWeight": "bold", "fontStyle": "italic", "align": "right", "baseline": "middle", "color": "#92d050", "clip": false},
    "encoding": {"text": {"field": "s"}}
   },
   {
    "data": {"values": [{"s": "=0", "t": 42.03, "e": 3.24}]},
    "mark": {"type": "text", "font": "Lato", "fontSize": 40, "fontWeight": "bold", "align": "left", "baseline": "middle", "color": "#92d050", "clip": false},
    "encoding": {"text": {"field": "s"}}
   },
   {
    "data": {"values": [{"s": "θ", "t": 35.0, "e": -1.167}]},
    "mark": {"type": "text", "font": "Liberation Serif", "fontSize": 42, "fontStyle": "italic", "align": "left", "baseline": "alphabetic", "color": "#000", "clip": false},
    "encoding": {"text": {"field": "s"}}
   },
   {
    "data": {"values": [{"s": "c.m.", "t": 37.91, "e": -1.354}]},
    "mark": {"type": "text", "font": "Liberation Serif", "fontSize": 28, "align": "left", "baseline": "alphabetic", "color": "#000", "clip": false},
    "encoding": {"text": {"field": "s"}}
   },
   {
    "data": {"values": [{"s": "[deg]", "t": 45.64, "e": -1.19}]},
    "mark": {"type": "text", "font": "Liberation Serif", "fontSize": 40, "align": "left", "baseline": "alphabetic", "color": "#000", "clip": false},
    "encoding": {"text": {"field": "s"}}
   }
  ]
 },
 {"width": 22, "height": 10, "data": {"values": []}, "mark": {"type": "point", "opacity": 0}},
 {
  "width": 218, "height": 640,
  "encoding": {
   "y": {"field": "e", "type": "quantitative", "scale": {"domain": [-1.33, 4.16], "nice": false, "zero": false}, "axis": null}
  },
  "layer": [
   {
    "data": {"values": [{"e": 0}, {"e": 2.109}, {"e": 2.251}, {"e": 2.715}]},
    "mark": {"type": "rule", "color": "#3a3a3a", "strokeWidth": 2.5},
    "encoding": {
     "x": {"datum": 11.5, "type": "quantitative", "scale": {"domain": [0, 100], "nice": false, "zero": false}, "axis": null},
     "x2": {"datum": 70.2}
    }
   },
   {
    "data": {"values": [{"e": 3.19}]},
    "mark": {"type": "rule", "color": "#555", "strokeWidth": 1.6, "strokeDash": [2, 3]},
    "encoding": {
     "x": {"datum": 11.5, "type": "quantitative", "scale": {"domain": [0, 100], "nice": false, "zero": false}, "axis": null},
     "x2": {"datum": 70.2}
    }
   },
   {
    "data": {"values": [{"e": 2.556}, {"e": 1.904}]},
    "mark": {"type": "rule", "color": "#f79646", "strokeWidth": 4},
    "encoding": {
     "x": {"datum": 4.6, "type": "quantitative", "scale": {"domain": [0, 100], "nice": false, "zero": false}, "axis": null},
     "x2": {"datum": 98.5}
    }
   },
   {
    "data": {"values": [{"e": 1.904, "e2": 2.556}]},
    "mark": {"type": "rule", "color": "#f79646", "strokeWidth": 4, "strokeCap": "square"},
    "encoding": {
     "x": {"datum": 4.6, "type": "quantitative", "scale": {"domain": [0, 100], "nice": false, "zero": false}, "axis": null},
     "y2": {"field": "e2"}
    }
   },
   {
    "data": {"values": [{"s": "1", "e": 2.722}, {"s": "0", "e": 2.38}, {"s": "2", "e": 2.114}, {"s": "0", "e": -0.017}]},
    "mark": {"type": "text", "font": "Liberation Serif", "fontSize": 34, "align": "left", "baseline": "middle", "color": "#222"},
    "encoding": {
     "x": {"datum": 81.65, "type": "quantitative", "scale": {"domain": [0, 100], "nice": false, "zero": false}, "axis": null},
     "text": {"field": "s"}
    }
   },
   {
    "data": {"values": [{"s": "+", "e": 2.444}, {"s": "+", "e": 2.17}, {"s": "−", "e": 2.809}, {"s": "+", "e": 0.077}]},
    "mark": {"type": "text", "font": "Liberation Serif", "fontSize": 20, "align": "left", "baseline": "middle", "color": "#222"},
    "encoding": {
     "x": {"datum": 90.4, "type": "quantitative", "scale": {"domain": [0, 100], "nice": false, "zero": false}, "axis": null},
     "text": {"field": "s"}
    }
   },
   {
    "data": {"values": [{"s": "S", "x": 81.2, "e": 3.169}]},
    "mark": {"type": "text", "font": "Liberation Serif", "fontSize": 40, "align": "left", "baseline": "middle", "color": "#222"},
    "encoding": {
     "x": {"field": "x", "type": "quantitative", "scale": {"domain": [0, 100], "nice": false, "zero": false}, "axis": null},
     "text": {"field": "s"}
    }
   },
   {
    "data": {"values": [{"s": "n", "x": 91.7, "e": 3.01}]},
    "mark": {"type": "text", "font": "Liberation Serif", "fontSize": 28, "align": "left", "baseline": "middle", "color": "#222"},
    "encoding": {
     "x": {"field": "x", "type": "quantitative", "scale": {"domain": [0, 100], "nice": false, "zero": false}, "axis": null},
     "text": {"field": "s"}
    }
   },
   {
    "data": {"values": [{"s": "12", "x": 10.55, "e": -0.704}, {"s": "4", "x": 19.72, "e": -1.133}, {"s": "8", "x": 67.43, "e": -1.116}]},
    "mark": {"type": "text", "font": "Liberation Serif", "fontSize": 44, "align": "left", "baseline": "alphabetic", "color": "#111"},
    "encoding": {
     "x": {"field": "x", "type": "quantitative", "scale": {"domain": [0, 100], "nice": false, "zero": false}, "axis": null},
     "text": {"field": "s"}
    }
   },
   {
    "data": {"values": [{"s": "Be", "x": 30.73, "e": -1.013}]},
    "mark": {"type": "text", "font": "Liberation Serif", "fontSize": 68, "align": "left", "baseline": "alphabetic", "color": "#111"},
    "encoding": {
     "x": {"field": "x", "type": "quantitative", "scale": {"domain": [0, 100], "nice": false, "zero": false}, "axis": null},
     "text": {"field": "s"}
    }
   }
  ]
 }
]
}
